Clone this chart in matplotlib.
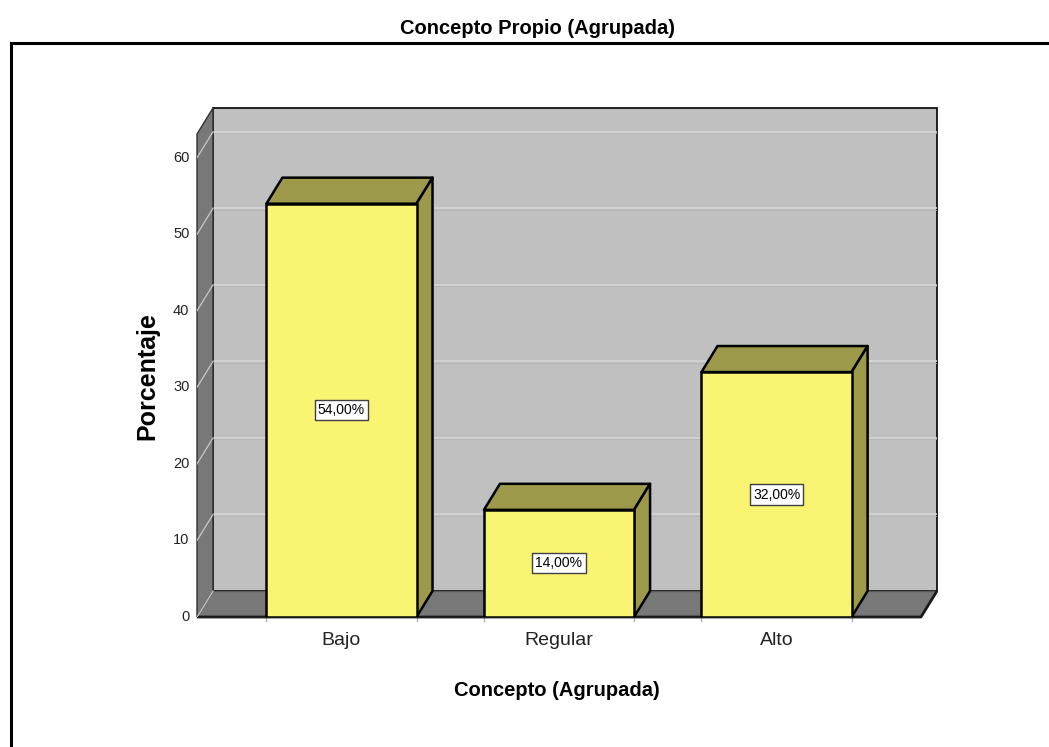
import matplotlib
matplotlib.use('Agg')
import matplotlib.pyplot as plt
from matplotlib.patches import Polygon, Rectangle

# ---- data ----
categories = ['Bajo', 'Regular', 'Alto']
percentages = [54.0, 14.0, 32.0]
y_ticks = [0, 10, 20, 30, 40, 50, 60]
bar_labels = ['54,00%', '14,00%', '32,00%']

title = 'Concepto Propio (Agrupada)'
x_title = 'Concepto (Agrupada)'
y_title = 'Porcentaje'

# ---- styling ----
FONT = ['Liberation Sans', 'DejaVu Sans']
front_col = '#f9f573'
shade_col = '#9c9a4a'
wall_col = '#c0c0c0'
dark_col = '#787878'
grid_col = '#d3d3d3'

x_lo, x_hi = -0.664, 2.664      # front plane extent (category units)
depth_x, depth_y = 0.0736, 3.4  # 3D depth offset in data units
wall_h = 63.1
bar_w = 0.69

fig = plt.figure(figsize=(10.49, 7.47), dpi=100)
W, H = 1049, 747
ax = fig.add_axes([197 / W, 130 / H, 740 / W, 509 / H])
ax.set_xlim(x_lo, x_hi + depth_x)
ax.set_ylim(0, wall_h + depth_y)
ax.axis('off')

# back wall
ax.add_patch(Rectangle((x_lo + depth_x, depth_y), x_hi - x_lo, wall_h,
                       facecolor=wall_col, edgecolor='black', lw=1.2,
                       zorder=1, clip_on=False))
for v in y_ticks[1:]:
    ax.plot([x_lo + depth_x, x_hi + depth_x - 0.003], [v + depth_y] * 2,
            color=grid_col, lw=1.3, zorder=2)
    ax.plot([x_lo + depth_x, x_hi + depth_x - 0.003], [v + depth_y - 0.2] * 2,
            color='#b4b4b4', lw=0.6, zorder=2)

# left side wall
ax.add_patch(Polygon([(x_lo, 0), (x_lo + depth_x, depth_y),
                      (x_lo + depth_x, wall_h + depth_y), (x_lo, wall_h)],
                     closed=True, facecolor=dark_col, edgecolor='#303030',
                     lw=1.0, zorder=3, clip_on=False))
for v in y_ticks[1:]:
    ax.plot([x_lo, x_lo + depth_x], [v, v + depth_y],
            color='#c8c8c8', lw=0.9, zorder=4)

# floor
ax.add_patch(Polygon([(x_lo, 0), (x_hi, 0), (x_hi + depth_x, depth_y),
                      (x_lo + depth_x, depth_y)],
                     closed=True, facecolor=dark_col, edgecolor='none', zorder=3))
ax.plot([x_lo + depth_x, x_hi + depth_x], [depth_y, depth_y],
        color='#5a5a5a', lw=1.0, zorder=4)
ax.plot([x_lo, x_hi, x_hi + depth_x], [0, 0, depth_y],
        color='#1a1a1a', lw=2.0, zorder=4, solid_capstyle='butt', clip_on=False)
ax.plot([x_lo, x_lo + depth_x], [0, depth_y], color='#c8c8c8', lw=0.9, zorder=4)

# bars
for i, (val, lab) in enumerate(zip(percentages, bar_labels)):
    x0, x1 = i - bar_w / 2, i + bar_w / 2
    ax.add_patch(Polygon([(x0, val), (x1, val), (x1 + depth_x, val + depth_y),
                          (x0 + depth_x, val + depth_y)], closed=True,
                         facecolor=shade_col, edgecolor='black', lw=1.8,
                         joinstyle='round', zorder=5))
    ax.add_patch(Polygon([(x1, 0), (x1 + depth_x, depth_y),
                          (x1 + depth_x, val + depth_y), (x1, val)], closed=True,
                         facecolor=shade_col, edgecolor='black', lw=1.8,
                         joinstyle='round', zorder=5))
    ax.bar(i, val, width=bar_w, color=front_col, edgecolor='black',
           linewidth=1.8, zorder=6)
    ax.text(i, val / 2, lab, ha='center', va='center', fontsize=10,
            family=FONT, zorder=7,
            bbox=dict(boxstyle='square,pad=0.22', facecolor='white',
                      edgecolor='#404040', lw=1.0))
    # small ticks at bar edges
    for xe in (x0, x1):
        ax.plot([xe, xe], [0, -0.5], color='#b0b0b0', lw=1.0, clip_on=False)
    ax.text(i, -3.1, categories[i], ha='center', va='center', fontsize=14,
            family=FONT, color='#222222', clip_on=False)

for v in y_ticks:
    ax.text(x_lo - 0.035, v, str(v), ha='right', va='center', fontsize=10.5,
            family=FONT, color='#222222', clip_on=False)

# titles
fig.text(537 / W, 1 - 28 / H, title, ha='center', va='center',
         fontsize=14.5, fontweight='bold', family=FONT)
fig.text(557 / W, 1 - 690 / H, x_title, ha='center', va='center',
         fontsize=14.5, fontweight='bold', family=FONT)
fig.text(147 / W, 1 - 376 / H, y_title, ha='center', va='center',
         fontsize=18, fontweight='bold', family=FONT, rotation=90)

# outer frame
fig.add_artist(Rectangle((10.5 / W, -0.05), 1.2, 1 - 42.5 / H + 0.05,
                         transform=fig.transFigure, fill=False,
                         edgecolor='black', lw=2.2))

fig.savefig('out.png', dpi=100)
